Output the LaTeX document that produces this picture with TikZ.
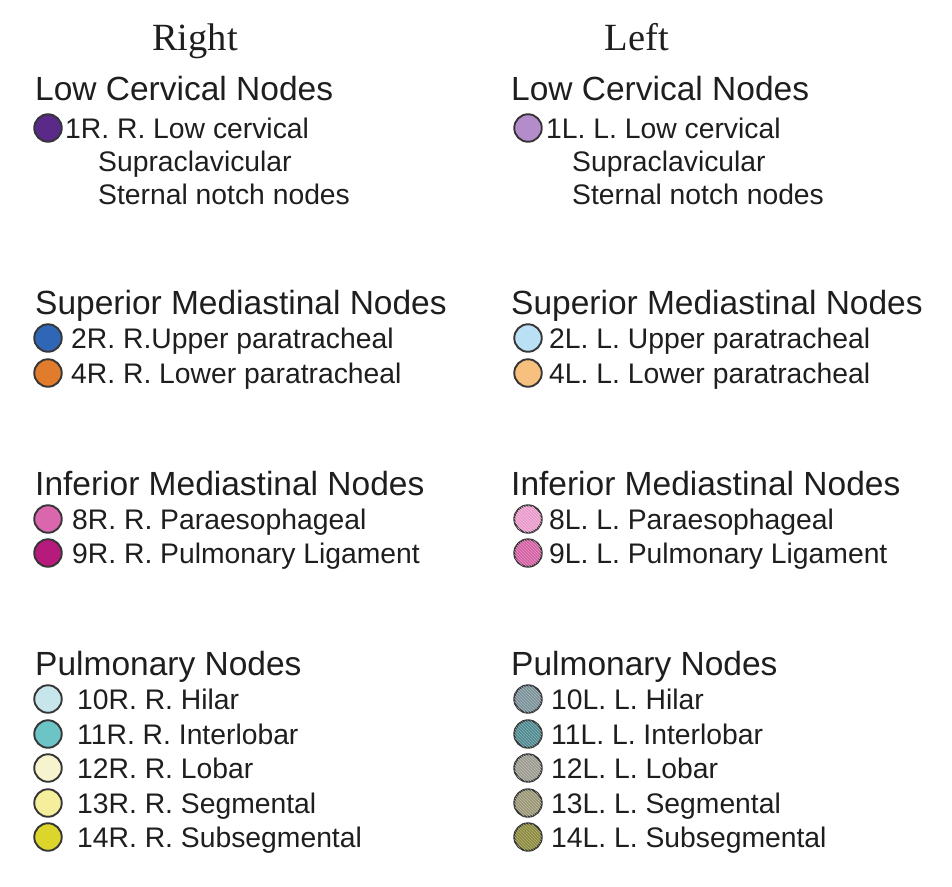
\documentclass[tikz,border=0pt]{standalone}
\usepackage{fontspec}
\setmainfont{Liberation Sans}
\newfontfamily\titlefont{Liberation Serif}
\usetikzlibrary{patterns}
\definecolor{txt}{HTML}{1E1E1E}
\definecolor{rim}{HTML}{363636}
\definecolor{cA}{HTML}{5B2A88}
\definecolor{cB}{HTML}{B48CCB}
\definecolor{cC}{HTML}{2F66B6}
\definecolor{cD}{HTML}{B9E0F4}
\definecolor{cE}{HTML}{E07C2B}
\definecolor{cF}{HTML}{F7C07E}
\definecolor{cG}{HTML}{DA67AE}
\definecolor{cH}{HTML}{E99ACB}
\definecolor{cI}{HTML}{B51A7C}
\definecolor{cJ}{HTML}{D45FA3}
\definecolor{cK}{HTML}{C6E6EB}
\definecolor{cL}{HTML}{6CC4C6}
\definecolor{cM}{HTML}{F6F4CE}
\definecolor{cN}{HTML}{F5EE9C}
\definecolor{cO}{HTML}{DCD62C}
\definecolor{cP}{HTML}{7A9199}
\definecolor{cQ}{HTML}{4E8A90}
\definecolor{cR}{HTML}{9D9B90}
\definecolor{cS}{HTML}{9B9774}
\definecolor{cT}{HTML}{8B8A3C}
\tikzset{
  coltitle/.style={anchor=base, inner sep=0pt, text=txt, font=\titlefont\fontsize{38.5}{44}\selectfont},
  grouphead/.style={anchor=base west, inner sep=0pt, text=txt, font=\fontsize{33.5}{40}\selectfont},
  itemtext/.style={anchor=base west, inner sep=0pt, text=txt, font=\fontsize{28.3}{34}\selectfont},
  dot/.style={circle, draw=rim, line width=1.9pt, minimum size=27.5pt, inner sep=0pt, fill=#1},
  hatchdot/.style={circle, draw=rim, line width=1.9pt, minimum size=27.5pt, inner sep=0pt, fill=#1,
    postaction={pattern=north west lines, pattern color=#1!65!white}}
}
\begin{document}
\begin{tikzpicture}[x=1pt,y=-1pt]
\useasboundingbox[fill=white] (0,0) rectangle (952,886);
% column titles
\node[coltitle] (tR) at (195,50) {Right};
\node[coltitle] (tL) at (637,50) {Left};
% ---------- Right column ----------
\node[grouphead] (hR1) at (35,100) {Low Cervical Nodes};
\node[dot=cA] (d1R) at (48,128) {};
\node[itemtext] (i1R) at (65,138) {1R. R. Low cervical};
\node[itemtext] (s1R) at (98,171) {Supraclavicular};
\node[itemtext] (n1R) at (98,204) {Sternal notch nodes};

\node[grouphead] (hR2) at (35,314) {Superior Mediastinal Nodes};
\node[dot=cC] (d2R) at (48,338) {};
\node[itemtext] (i2R) at (71,348) {2R. R.Upper paratracheal};
\node[dot=cE] (d4R) at (48,373) {};
\node[itemtext] (i4R) at (71,383) {4R. R. Lower paratracheal};

\node[grouphead] (hR3) at (35,495) {Inferior Mediastinal Nodes};
\node[dot=cG] (d8R) at (48,519) {};
\node[itemtext] (i8R) at (72,529) {8R. R. Paraesophageal};
\node[dot=cI] (d9R) at (48,553) {};
\node[itemtext] (i9R) at (72,563) {9R. R. Pulmonary Ligament};

\node[grouphead] (hR4) at (35,675) {Pulmonary Nodes};
\node[dot=cK] (d10R) at (48,699) {};
\node[itemtext] (i10R) at (77,709) {10R. R. Hilar};
\node[dot=cL] (d11R) at (48,734) {};
\node[itemtext] (i11R) at (77,744) {11R. R. Interlobar};
\node[dot=cM] (d12R) at (48,768) {};
\node[itemtext] (i12R) at (77,778) {12R. R. Lobar};
\node[dot=cN] (d13R) at (48,803) {};
\node[itemtext] (i13R) at (77,813) {13R. R. Segmental};
\node[dot=cO] (d14R) at (48,837) {};
\node[itemtext] (i14R) at (77,847) {14R. R. Subsegmental};
% ---------- Left column ----------
\node[grouphead] (hL1) at (511,100) {Low Cervical Nodes};
\node[dot=cB] (d1L) at (528,128) {};
\node[itemtext] (i1L) at (546,138) {1L. L. Low cervical};
\node[itemtext] (s1L) at (572,171) {Supraclavicular};
\node[itemtext] (n1L) at (572,204) {Sternal notch nodes};

\node[grouphead] (hL2) at (511,314) {Superior Mediastinal Nodes};
\node[dot=cD] (d2L) at (528,338) {};
\node[itemtext] (i2L) at (549,348) {2L. L. Upper paratracheal};
\node[dot=cF] (d4L) at (528,373) {};
\node[itemtext] (i4L) at (549,383) {4L. L. Lower paratracheal};

\node[grouphead] (hL3) at (511,495) {Inferior Mediastinal Nodes};
\node[hatchdot=cH] (d8L) at (528,519) {};
\node[itemtext] (i8L) at (549,529) {8L. L. Paraesophageal};
\node[hatchdot=cJ] (d9L) at (528,553) {};
\node[itemtext] (i9L) at (549,563) {9L. L. Pulmonary Ligament};

\node[grouphead] (hL4) at (511,675) {Pulmonary Nodes};
\node[hatchdot=cP] (d10L) at (528,699) {};
\node[itemtext] (i10L) at (551,709) {10L. L. Hilar};
\node[hatchdot=cQ] (d11L) at (528,734) {};
\node[itemtext] (i11L) at (551,744) {11L. L. Interlobar};
\node[hatchdot=cR] (d12L) at (528,768) {};
\node[itemtext] (i12L) at (551,778) {12L. L. Lobar};
\node[hatchdot=cS] (d13L) at (528,803) {};
\node[itemtext] (i13L) at (551,813) {13L. L. Segmental};
\node[hatchdot=cT] (d14L) at (528,837) {};
\node[itemtext] (i14L) at (551,847) {14L. L. Subsegmental};
\end{tikzpicture}
\end{document}
